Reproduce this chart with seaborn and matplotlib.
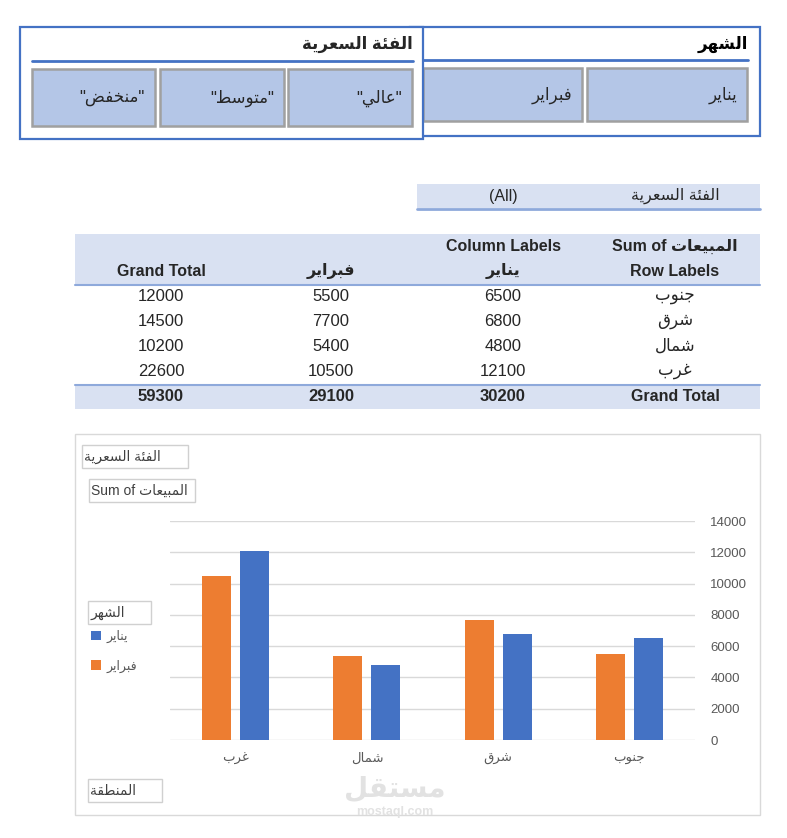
import matplotlib
matplotlib.use("Agg")
import matplotlib.pyplot as plt
import pandas as pd
import seaborn as sns
from matplotlib.patches import Rectangle

# data
regions = ["جنوب", "شرق", "شمال", "غرب"]
jan_sales = [6500, 6800, 4800, 12100]
feb_sales = [5500, 7700, 5400, 10500]
months = ["يناير", "فبراير"]
price_cats = ['"عالي"', '"متوسط"', '"منخفض"']
y_ticks = [0, 2000, 4000, 6000, 8000, 10000, 12000, 14000]

sns.set_theme(style="white")
plt.rcParams["font.family"] = ["Liberation Sans", "DejaVu Sans"]

# minimal arabic shaping (presentation forms, visual order)
FORMS = {
    "ا": (0xFE8D, 2), "ب": (0xFE8F, 4), "ة": (0xFE93, 2), "ت": (0xFE95, 4),
    "ج": (0xFE9D, 4), "خ": (0xFEA5, 4), "ر": (0xFEAD, 2), "س": (0xFEB1, 4),
    "ش": (0xFEB5, 4), "ض": (0xFEBD, 4), "ط": (0xFEC1, 4), "ع": (0xFEC9, 4),
    "غ": (0xFECD, 4), "ف": (0xFED1, 4), "ق": (0xFED5, 4), "ل": (0xFEDD, 4),
    "م": (0xFEE1, 4), "ن": (0xFEE5, 4), "ه": (0xFEE9, 4), "و": (0xFEED, 2),
    "ي": (0xFEF1, 4), "ئ": (0xFE89, 4),
}


def ar(text):
    out = []
    for i, ch in enumerate(text):
        if ch not in FORMS:
            out.append(ch)
            continue
        base, n = FORMS[ch]
        prev = text[i - 1] if i > 0 else ""
        nxt = text[i + 1] if i + 1 < len(text) else ""
        jp = prev in FORMS and FORMS[prev][1] == 4
        jn = n == 4 and nxt in FORMS
        off = 3 if (jp and jn) else 1 if jp else 2 if jn else 0
        out.append(chr(base + off))
    return "".join(out)[::-1]


W, H = 787, 838
fig = plt.figure(figsize=(W / 100, H / 100), dpi=100)
bg = fig.add_axes([0, 0, 1, 1])
bg.set_xlim(0, W)
bg.set_ylim(H, 0)
bg.axis("off")

BLUE_LINE = "#4472c4"
BAND = "#d9e1f2"
BAND_LINE = "#8ea9db"
BTN = "#b4c6e7"


def rect(x0, y0, x1, y1, fc="none", ec="none", lw=1.0, z=1):
    bg.add_patch(Rectangle((x0, y0), x1 - x0, y1 - y0, facecolor=fc,
                           edgecolor=ec, linewidth=lw, zorder=z))


# month slicer
rect(410, 27, 760, 136, fc="white", ec=BLUE_LINE, lw=1.6)
bg.text(748, 44, ar("الشهر"), ha="right", va="center", fontsize=12,
        fontweight="bold", color="black")
bg.plot([423, 748], [60, 60], color=BLUE_LINE, lw=2)
for (x0, x1), m in zip([(587, 747), (423, 582)], months):
    rect(x0, 68, x1, 121, fc=BTN, ec="#a0a0a0", lw=1.8)
    bg.text(x1 - 10, 95, ar(m), ha="right", va="center", fontsize=12)

# price slicer
rect(20, 27, 423, 139, fc="white", ec=BLUE_LINE, lw=1.6, z=2)
bg.text(413, 44, ar("الفئة السعرية"), ha="right", va="center", fontsize=12,
        fontweight="bold", zorder=3)
bg.plot([32, 413], [61, 61], color=BLUE_LINE, lw=2, zorder=3)
for (x0, x1), c in zip([(288, 412), (160, 284), (32, 155)], price_cats):
    rect(x0, 69, x1, 126, fc=BTN, ec="#a0a0a0", lw=1.8, z=3)
    bg.text(x1 - 10, 98, ar(c), ha="right", va="center", fontsize=12, zorder=4)

# pivot table
cols = [675, 503, 331, 161]
rect(417, 184, 760, 208, fc=BAND)
bg.plot([417, 760], [209, 209], color=BAND_LINE, lw=2)
bg.text(675, 196, ar("الفئة السعرية"), ha="center", va="center", fontsize=11.5)
bg.text(503, 196, "(All)", ha="center", va="center", fontsize=11.5)

rect(75, 234, 760, 284, fc=BAND)
bg.plot([75, 760], [285, 285], color=BAND_LINE, lw=1.5)
hdr = dict(ha="center", va="center", fontsize=11.5, fontweight="bold")
bg.text(675, 246, "Sum of " + ar("المبيعات"), **hdr)
bg.text(503, 246, "Column Labels", **hdr)
bg.text(675, 271, "Row Labels", **hdr)
bg.text(503, 271, ar(months[0]), **hdr)
bg.text(331, 271, ar(months[1]), **hdr)
bg.text(161, 271, "Grand Total", **hdr)

for i, (r, j, f) in enumerate(zip(regions, jan_sales, feb_sales)):
    y = 296 + 25 * i
    bg.text(cols[0], y, ar(r), ha="center", va="center", fontsize=12)
    for cx, v in zip(cols[1:], [j, f, j + f]):
        bg.text(cx, y, str(v), ha="center", va="center", fontsize=12)

rect(75, 385, 760, 409, fc=BAND)
bg.plot([75, 760], [384.5, 384.5], color=BAND_LINE, lw=1.5)
tot = [sum(jan_sales), sum(feb_sales), sum(jan_sales) + sum(feb_sales)]
bg.text(cols[0], 396, "Grand Total", **hdr)
for cx, v in zip(cols[1:], tot):
    bg.text(cx, 396, str(v), ha="center", va="center", fontsize=12,
            fontweight="bold")

# chart frame and field buttons
rect(75, 434, 760, 815, fc="white", ec="#d9d9d9", lw=1)
btn_txt = "#404040"
for (x0, y0, x1, y1), label in [
    ((82, 445, 188, 468), ar("الفئة السعرية")),
    ((89, 479, 195, 502), "Sum of " + ar("المبيعات")),
    ((88, 601, 151, 624), ar("الشهر")),
    ((88, 779, 162, 802), ar("المنطقة")),
]:
    rect(x0, y0, x1, y1, fc="white", ec="#d0d0d0", lw=1, z=2)
    bg.text(x0 + 2, (y0 + y1) / 2, label, ha="left", va="center",
            fontsize=10, color=btn_txt, zorder=3)

# watermark
bg.text(395, 790, ar("مستقل"), ha="center", va="center", fontsize=20,
        fontweight="bold", color="#e2e2e2", zorder=3)
bg.text(395, 812, "mostaql.com", ha="center", va="center", fontsize=9,
        fontweight="bold", color="#e2e2e2", zorder=3)

# bar chart
df = pd.DataFrame({
    "region": regions * 2,
    "month": [months[0]] * len(regions) + [months[1]] * len(regions),
    "sales": jan_sales + feb_sales,
})
order = regions[::-1]
hue_order = months[::-1]
palette = {months[0]: "#4472c4", months[1]: "#ed7d31"}

ax = fig.add_axes([170 / W, 1 - 740 / H, 525 / W, 219 / H])
ax.patch.set_alpha(0)
sns.barplot(data=df, x="region", y="sales", hue="month", order=order,
            hue_order=hue_order, palette=palette, width=0.58, gap=0.24,
            saturation=1, linewidth=0, ax=ax)
ax.set_xlim(-0.5, len(order) - 0.5)
ax.set_ylim(0, 14000)
ax.set_yticks(y_ticks)
ax.yaxis.tick_right()
ax.yaxis.grid(True, color="#d9d9d9", lw=1)
ax.set_axisbelow(True)
for s in ax.spines.values():
    s.set_visible(False)
ax.set_xticks(range(len(order)))
ax.set_xticklabels([ar(r) for r in order])
ax.tick_params(axis="both", length=0, labelsize=9.5, colors="#595959")
ax.tick_params(axis="y", pad=11)
ax.tick_params(axis="x", pad=9)
ax.set_xlabel("")
ax.set_ylabel("")

handles, labels = ax.get_legend_handles_labels()
ax.get_legend().remove()
fig.legend(handles[::-1], [ar(l) for l in labels[::-1]], loc="upper left",
           bbox_to_anchor=(91 / W, 1 - 630 / H), frameon=False, fontsize=9,
           labelcolor="#595959", handlelength=0.8, handleheight=0.8,
           handletextpad=0.4, labelspacing=1.3, borderpad=0, borderaxespad=0)

fig.savefig("out.png", dpi=100)
